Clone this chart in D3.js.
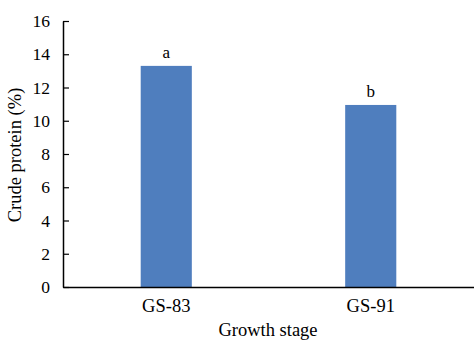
<!DOCTYPE html>
<html><head><meta charset="utf-8">
<script src="https://cdn.jsdelivr.net/npm/d3@7"></script>
<style>body{margin:0;background:#fff}svg{display:block}</style>
</head><body>
<script>
const categories = ["GS-83", "GS-91"];
const values = [13.3, 10.95];
const letters = ["a", "b"];
const yTicks = [0, 2, 4, 6, 8, 10, 12, 14, 16];

const W = 474, H = 341;
const svg = d3.select("body").append("svg").attr("width", W).attr("height", H);
const font = "'Liberation Serif', 'Times New Roman', serif";
const x0 = 63, x1 = 474, yTop = 21, yBot = 287;

const x = d3.scaleBand().domain(categories).range([x0, x1]).paddingInner(0.75).paddingOuter(0.38);
const y = d3.scaleLinear().domain([0, 16]).range([yBot, yTop]);

svg.selectAll("rect.bar").data(categories).join("rect")
  .attr("x", d => x(d)).attr("width", x.bandwidth())
  .attr("y", (d, i) => y(values[i])).attr("height", (d, i) => yBot - y(values[i]))
  .attr("fill", "#4f7ebe");

svg.selectAll("text.let").data(categories).join("text")
  .attr("x", d => x(d) + x.bandwidth() / 2)
  .attr("y", (d, i) => y(values[i]) - 8)
  .attr("text-anchor", "middle").attr("font-family", font).attr("font-size", 17)
  .text((d, i) => letters[i]);

const yAxis = svg.append("g").attr("transform", `translate(${x0},0)`)
  .call(d3.axisLeft(y).tickValues(yTicks).tickSizeInner(-6).tickSizeOuter(0).tickPadding(13));
yAxis.attr("font-family", font);
yAxis.select(".domain").attr("stroke", "#000").attr("stroke-width", 1.5);
yAxis.selectAll(".tick line").attr("stroke", "#000").attr("stroke-width", 1.2);
yAxis.selectAll("text").attr("font-family", font).attr("font-size", 17.5).attr("fill", "#000");

const xAxis = svg.append("g").attr("transform", `translate(0,${yBot})`)
  .call(d3.axisBottom(x).tickSize(0).tickPadding(12));
xAxis.attr("font-family", font);
xAxis.select(".domain").attr("stroke", "#000").attr("stroke-width", 1.5);
xAxis.selectAll("text").attr("font-family", font).attr("font-size", 18.5).attr("fill", "#000");

svg.append("text").attr("x", 268).attr("y", 336).attr("text-anchor", "middle")
  .attr("font-family", font).attr("font-size", 18.5).text("Growth stage");
svg.append("text").attr("transform", "translate(21,155) rotate(-90)").attr("text-anchor", "middle")
  .attr("font-family", font).attr("font-size", 18.5).text("Crude protein (%)");
</script>
</body></html>
